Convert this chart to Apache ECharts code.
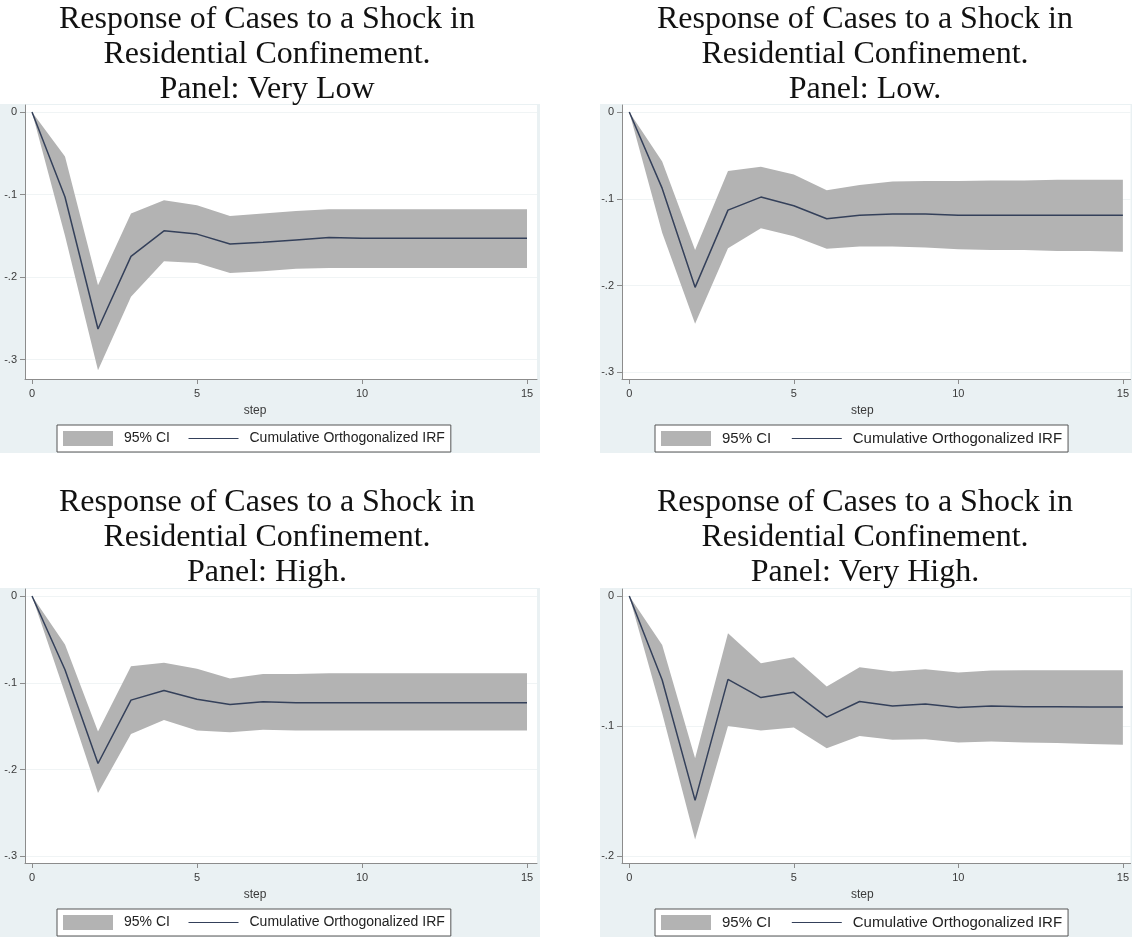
<!DOCTYPE html>
<html>
<head>
<meta charset="utf-8">
<title>Cumulative orthogonalized IRF by confinement panel</title>
<script src="https://cdn.jsdelivr.net/npm/echarts@6/dist/echarts.min.js"></script>
<style>
  html, body { margin: 0; padding: 0; background: #ffffff; }
  #chart { width: 1132px; height: 939px; }
</style>
</head>
<body>
<div id="chart"></div>
<script>
// Forecast horizon (steps) and tick labels
const steps = [0, 1, 2, 3, 4, 5, 6, 7, 8, 9, 10, 11, 12, 13, 14, 15];
const xTicks = [0, 5, 10, 15];

// Panel: Very Low
const irfVeryLow   = [0, -0.103, -0.263, -0.175, -0.144, -0.148, -0.160, -0.158, -0.155, -0.152, -0.153, -0.153, -0.153, -0.153, -0.153, -0.153];
const upperVeryLow = [0, -0.054, -0.210, -0.123, -0.107, -0.113, -0.126, -0.123, -0.120, -0.118, -0.118, -0.118, -0.118, -0.118, -0.118, -0.118];
const lowerVeryLow = [0, -0.150, -0.313, -0.224, -0.181, -0.183, -0.195, -0.193, -0.190, -0.189, -0.189, -0.189, -0.189, -0.189, -0.189, -0.189];
const yTicksVeryLow = [0, -0.1, -0.2, -0.3];

// Panel: Low
const irfLow   = [0, -0.088, -0.202, -0.113, -0.098, -0.108, -0.123, -0.119, -0.1175, -0.1175, -0.119, -0.119, -0.119, -0.119, -0.119, -0.119];
const upperLow = [0, -0.057, -0.159, -0.068, -0.063, -0.072, -0.090, -0.084, -0.080, -0.0795, -0.0795, -0.079, -0.079, -0.078, -0.078, -0.078];
const lowerLow = [0, -0.139, -0.244, -0.157, -0.134, -0.143, -0.1575, -0.155, -0.155, -0.156, -0.158, -0.159, -0.159, -0.160, -0.160, -0.161];
const yTicksLow = [0, -0.1, -0.2, -0.3];

// Panel: High
const irfHigh   = [0, -0.085, -0.193, -0.120, -0.109, -0.119, -0.125, -0.122, -0.123, -0.123, -0.123, -0.123, -0.123, -0.123, -0.123, -0.123];
const upperHigh = [0, -0.056, -0.156, -0.081, -0.077, -0.084, -0.095, -0.090, -0.090, -0.089, -0.089, -0.089, -0.089, -0.089, -0.089, -0.089];
const lowerHigh = [0, -0.112, -0.227, -0.159, -0.143, -0.155, -0.157, -0.154, -0.155, -0.155, -0.155, -0.155, -0.155, -0.155, -0.155, -0.155];
const yTicksHigh = [0, -0.1, -0.2, -0.3];

// Panel: Very High
const irfVeryHigh   = [0, -0.0645, -0.157, -0.064, -0.078, -0.074, -0.093, -0.081, -0.0844, -0.0829, -0.0857, -0.0844, -0.085, -0.085, -0.0852, -0.0852];
const upperVeryHigh = [0, -0.0376, -0.1246, -0.0286, -0.0517, -0.047, -0.0696, -0.0547, -0.058, -0.0563, -0.0588, -0.0573, -0.057, -0.057, -0.057, -0.057];
const lowerVeryHigh = [0, -0.090, -0.187, -0.0998, -0.1034, -0.101, -0.117, -0.1075, -0.1105, -0.110, -0.1126, -0.1118, -0.1125, -0.113, -0.1136, -0.1143];
const yTicksVeryHigh = [0, -0.1, -0.2];

const titles = [
  'Response of Cases to a Shock in\nResidential Confinement.\nPanel: Very Low',
  'Response of Cases to a Shock in\nResidential Confinement.\nPanel: Low.',
  'Response of Cases to a Shock in\nResidential Confinement.\nPanel: High.',
  'Response of Cases to a Shock in\nResidential Confinement.\nPanel: Very High.'
];
const ciName = '95% CI';
const irfName = 'Cumulative Orthogonalized IRF';
const xName = 'step';

const panelData = [
  { irf: irfVeryLow,  upper: upperVeryLow,  lower: lowerVeryLow,  yTicks: yTicksVeryLow },
  { irf: irfLow,      upper: upperLow,      lower: lowerLow,      yTicks: yTicksLow },
  { irf: irfHigh,     upper: upperHigh,     lower: lowerHigh,     yTicks: yTicksHigh },
  { irf: irfVeryHigh, upper: upperVeryHigh, lower: lowerVeryHigh, yTicks: yTicksVeryHigh }
];

// Layout of the 2x2 arrangement (nameShift moves the axis title left of the plot centre)
const layout = [
  { gx: 25,  gw: 512, gy: 105, gh: 274, xMin: -0.212, xMax: 15.303, yMin: -0.3236, yMax: 0.0085, bx: 0,   bw: 540, by: 104, tx: 267, ty: 2,   lx: 57,  ly: 425, nameShift: 26, lf: 14, lg: 18 },
  { gx: 622, gw: 510, gy: 105, gh: 274, xMin: -0.221, xMax: 15.233, yMin: -0.3076, yMax: 0.0081, bx: 600, bw: 532, by: 104, tx: 865, ty: 2,   lx: 655, ly: 425, nameShift: 14, lf: 15, lg: 20 },
  { gx: 25,  gw: 512, gy: 589, gh: 274, xMin: -0.212, xMax: 15.303, yMin: -0.3076, yMax: 0.0080, bx: 0,   bw: 540, by: 588, tx: 267, ty: 485, lx: 57,  ly: 909, nameShift: 26, lf: 14, lg: 18 },
  { gx: 622, gw: 510, gy: 589, gh: 274, xMin: -0.221, xMax: 15.233, yMin: -0.2051, yMax: 0.0054, bx: 600, bw: 532, by: 588, tx: 865, ty: 485, lx: 655, ly: 909, nameShift: 14, lf: 15, lg: 20 }
];

const sans = '"Liberation Sans", Arial, sans-serif';
const serif = '"Liberation Serif", "Times New Roman", serif';
const axisGrey = '#8c8c8c';
const labelGrey = '#3a3a3a';
const bandGrey = '#b3b3b3';
const lineNavy = '#34405a';
const regionBlue = '#eaf1f3';

function fmtStata(v) {
  if (v === 0) return '0';
  const s = String(Math.abs(Math.round(v * 1000) / 1000)).replace(/^0/, '');
  return (v < 0 ? '-' : '') + s;
}

// Confidence band: one polygon running along the upper bound and back along the lower bound
function renderBand(params, api) {
  if (params.dataIndexInside !== 0) return null;
  const n = params.dataInsideLength;
  const top = [], bottom = [];
  for (let k = 0; k < n; k++) {
    top.push(api.coord([api.value(0, k), api.value(2, k)]));
    bottom.push(api.coord([api.value(0, k), api.value(1, k)]));
  }
  return {
    type: 'polygon', silent: true,
    shape: { points: top.concat(bottom.reverse()) },
    style: { fill: bandGrey, stroke: null }
  };
}

const option = {
  backgroundColor: '#ffffff',
  animation: false,
  title: [], grid: [], xAxis: [], yAxis: [], legend: [], series: [],
  graphic: { elements: [] }
};

panelData.forEach((p, i) => {
  const L = layout[i];

  option.graphic.elements.push({
    type: 'rect', z: -10, silent: true,
    shape: { x: L.bx, y: L.by, width: L.bw, height: 349 },
    style: { fill: regionBlue }
  });

  option.title.push({
    text: titles[i], left: L.tx, top: L.ty, textAlign: 'center', padding: 0,
    textStyle: { fontFamily: serif, fontSize: 32, fontWeight: 'normal', lineHeight: 35, color: '#111111' }
  });

  option.grid.push({
    left: L.gx, top: L.gy, width: L.gw, height: L.gh,
    show: true, backgroundColor: '#ffffff', borderWidth: 0
  });

  option.xAxis.push({
    type: 'value', gridIndex: i, min: L.xMin, max: L.xMax,
    name: xName, nameLocation: 'middle', nameGap: 26,
    nameTextStyle: { fontFamily: sans, fontSize: 12, color: labelGrey, padding: [0, 2 * L.nameShift, 0, 0] },
    axisLine: { show: true, onZero: false, lineStyle: { color: axisGrey, width: 1 } },
    axisTick: { show: true, inside: false, length: 5, customValues: xTicks, lineStyle: { color: axisGrey } },
    axisLabel: { customValues: xTicks, margin: 9, fontFamily: sans, fontSize: 11, color: labelGrey },
    splitLine: { show: false }
  });

  option.yAxis.push({
    type: 'value', gridIndex: i, min: L.yMin, max: L.yMax,
    axisLine: { show: true, onZero: false, lineStyle: { color: axisGrey, width: 1 } },
    axisTick: { show: true, inside: false, length: 5, customValues: p.yTicks, lineStyle: { color: axisGrey } },
    axisLabel: { customValues: p.yTicks, margin: 8, fontFamily: sans, fontSize: 11, color: labelGrey, formatter: fmtStata },
    splitLine: { show: true, lineStyle: { color: '#f0f4f5', width: 1 } }
  });

  option.series.push({
    name: ciName, type: 'custom', xAxisIndex: i, yAxisIndex: i,
    renderItem: renderBand, silent: true, clip: true,
    itemStyle: { color: bandGrey },
    encode: { x: 0, y: [1, 2] },
    data: steps.map((s, k) => [s, p.lower[k], p.upper[k]]),
    z: 1
  });
  option.series.push({
    name: irfName, type: 'line', xAxisIndex: i, yAxisIndex: i,
    symbol: 'none', silent: true, color: lineNavy,
    lineStyle: { color: lineNavy, width: 1.5 },
    data: steps.map((s, k) => [s, p.irf[k]]),
    z: 3
  });

  option.legend.push({
    left: L.lx, top: L.ly, orient: 'horizontal',
    itemWidth: 50, itemHeight: 15, itemGap: L.lg,
    padding: [6, 6], borderColor: '#555555', borderWidth: 1, backgroundColor: '#ffffff',
    selectedMode: false,
    textStyle: { fontFamily: sans, fontSize: L.lf, color: '#222222', padding: [0, 0, 0, 6] },
    data: [
      { name: ciName, icon: 'rect', itemStyle: { color: bandGrey, opacity: 1 } },
      { name: irfName, itemStyle: { opacity: 0 }, lineStyle: { color: lineNavy, width: 1.2 } }
    ]
  });
});

const chart = echarts.init(document.getElementById('chart'), null, { renderer: 'canvas' });
chart.setOption(option);
</script>
</body>
</html>
